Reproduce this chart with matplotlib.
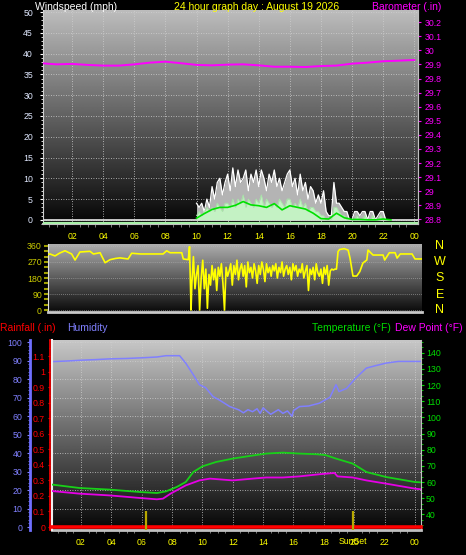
import numpy as np
import matplotlib
matplotlib.use("Agg")
import matplotlib.pyplot as plt
from matplotlib.ticker import MultipleLocator

W, H = 466, 555
plt.rcParams["font.family"] = ["Liberation Sans", "DejaVu Sans"]

# ── data ────────────────────────────────────────────────────────────────
HOUR_TICKS = list(range(2, 25, 2))
HOUR_LABELS = ["02", "04", "06", "08", "10", "12", "14", "16", "18", "20", "22", "00"]

BARO_T = list(range(25))
BARO = [29.909, 29.901, 29.904, 29.897, 29.892, 29.892, 29.901, 29.913, 29.920,
        29.909, 29.897, 29.894, 29.899, 29.901, 29.894, 29.884, 29.884, 29.882,
        29.889, 29.892, 29.906, 29.913, 29.923, 29.927, 29.932]

# 10 minute samples 10:00 .. 22:30
WIND_T = np.linspace(10, 22.5, 76)
GUST = [4, 3, 4, 2, 5, 3,
        8, 5, 9, 10, 6, 9,
        11, 7, 12.5, 8, 12, 9,
        10, 12, 7, 11, 9, 12,
        8, 12, 10, 7, 11, 9,
        12, 8, 10, 7, 9, 11,
        12, 8, 10, 6, 11, 7,
        9, 5, 8, 7, 4, 6,
        4, 7, 2, 1, 1, 9,
        4, 4, 3, 2, 2, 0,
        0, 2, 2, 1, 2, 2,
        0, 2, 2, 0, 1, 2,
        2, 0, 0, 0]
SPEED = [1, 2, 1, 2, 3, 2,
         3, 2, 4, 3, 2, 4,
         4, 3, 5, 3, 5, 4,
         6, 3, 5, 4, 3, 5,
         4, 6, 3, 5, 4, 3,
         4, 3, 5, 4, 3, 5,
         5, 3, 4, 3, 5, 3,
         4, 2, 3, 3, 2, 2,
         1, 1, 0, 0, 0, 3,
         3, 2, 1, 1, 0, 0,
         0, 0, 1, 0, 0, 1,
         0, 0, 1, 0, 0, 1,
         0, 0, 0, 0]
AVG_T = np.linspace(10, 22.5, 26)
AVG = [0.4, 1.5, 2.5, 3.0, 3.0, 3.5, 4.4, 3.6, 3.4, 3.0, 3.9, 2.4, 3.4,
       3.0, 2.6, 1.6, 0.3, 0.2, 1.6, 0.5, 0.1, 0.1, 0.0, 0.0, 0.2, 0.0]

DIR_T_AM = [0.45, 0.58, 0.9, 1.2, 1.54, 1.97, 2.19, 2.5, 2.8, 3.15, 3.37, 3.8,
            3.9, 4.12, 4.44, 4.8, 5.08, 5.6, 5.83, 6.4, 7.0, 7.85, 8.08, 8.3,
            9.05, 9.15, 9.47, 9.55, 9.65]
DIR_AM = [312, 315, 304, 320, 333, 315, 281, 326, 328, 330, 315, 322,
          304, 266, 283, 290, 293, 287, 319, 315, 315, 315, 333, 322,
          322, 287, 283, 356, 0]
# 6 minute samples 9.7 .. 18.9 h
DIR_T_MID = np.linspace(9.7, 18.9, 93)
DIR_MID = [150, 300, 120, 200, 250, 0, 180, 280, 120, 230, 10,
           200, 140, 250, 170, 230, 110, 240, 190, 260, 150, 0,
           240, 190, 220, 260, 140, 250, 200, 280, 170, 230, 260,
           190, 250, 130, 270, 210, 240, 180, 260, 220, 150,
           250, 200, 270, 230, 160, 260, 210, 240, 190, 250,
           220, 260, 180, 240, 210, 270, 190, 230, 250, 200,
           240, 170, 260, 220, 250, 190, 230, 210, 260, 180,
           220, 250, 110, 230, 200, 240, 170, 260, 210, 190,
           230, 150, 240, 200, 250, 140, 220, 230, 225, 230]
DIR_T_PM = [19.0, 19.1, 19.2, 19.5, 19.75, 19.87, 20.06, 20.3, 20.5, 20.7,
            20.95, 21.03, 21.35, 22.0, 22.1, 22.4, 22.77, 22.9, 23.1, 23.86,
            24.05, 24.5]
DIR_PM = [230, 328, 340, 345, 337, 292, 191, 191, 216, 264,
          281, 337, 309, 309, 281, 322, 322, 292, 315, 315,
          287, 287]

HUM_T = [0.1, 1.0, 2.1, 3.0, 3.9, 5.0, 6.1, 7.0, 7.6, 8.5, 8.9, 9.4, 9.8,
         10.2, 10.7, 11.1, 11.8, 12.4, 12.7, 13.0, 13.3, 13.6, 13.8, 14.0,
         14.2, 14.5, 14.7, 15.0, 15.3, 15.6, 15.9, 16.0, 16.4, 17.0, 17.7,
         18.4, 18.8, 19.0, 19.5, 20.1, 20.8, 21.4, 22.1, 22.9, 24.0, 24.4]
HUM = [89.5, 89.8, 90.3, 90.6, 91.0, 91.2, 91.6, 92.0, 92.7, 92.7, 88.7,
       82.4, 77.0, 75.5, 70.6, 68.8, 65.2, 63.4, 61.8, 63.5, 62.4, 64.0,
       61.5, 64.5, 63.0, 61.0, 62.0, 63.5, 61.5, 62.8, 60.0, 63.0, 65.2,
       65.5, 67.0, 70.2, 77.0, 73.3, 75.0, 80.6, 86.0, 87.3, 88.7, 89.6,
       89.6, 89.6]

TEMP_T = [0.1, 1.9, 3.9, 5.9, 7.0, 7.6, 8.3, 8.9, 9.4, 10.0, 10.9, 12.0,
          13.1, 14.2, 15.3, 16.4, 17.5, 18.1, 18.8, 19.9, 20.8, 22.1, 24.0, 24.4]
TEMP = [58.4, 56.3, 55.3, 53.8, 53.2, 54.2, 56.9, 60.0, 66.2, 69.7, 72.4,
        74.5, 76.1, 77.6, 78.2, 77.6, 77.2, 76.7, 74.5, 71.4, 66.2, 63.1,
        60.0, 59.8]

DEW_T = [0.1, 1.9, 3.9, 5.9, 7.0, 7.4, 7.9, 8.9, 9.8, 10.5, 12.0, 13.3,
         14.2, 15.3, 16.4, 17.7, 18.7, 18.9, 19.9, 20.8, 22.1, 24.0, 24.4]
DEW = [54.4, 52.8, 51.7, 50.1, 49.3, 49.7, 52.8, 57.9, 61.0, 62.1, 61.0,
       62.1, 62.8, 62.8, 63.5, 64.8, 65.6, 63.5, 62.8, 61.0, 59.0, 55.9, 55.5]

RAIN_T = [0, 24.4]
RAIN = [0, 0]
SUN_T = [6.3, 19.93]
SUN_H = 0.1

# ── colours ─────────────────────────────────────────────────────────────
YEL, MAG, GRN, HUMC, RED = "#ffff00", "#ff00ff", "#00dd00", "#8080ff", "#ff0000"
OLIVE = "#cccc00"
GRIDC = "#d0d0d0"
DOT = (0, (1, 2))
FS = 6.3

fig = plt.figure(figsize=(W / 100, H / 100), dpi=100, facecolor="black")


def box(l, t, r, b):
    return fig.add_axes([l / W, 1 - b / H, (r - l) / W, (b - t) / H])


def backdrop(ax, top, bottom):
    g = np.linspace(top, bottom, 256).reshape(-1, 1)
    ax.imshow(g, extent=[0, 1, 0, 1], transform=ax.transAxes, cmap="gray",
              vmin=0, vmax=1, aspect="auto", zorder=0, interpolation="bilinear")


def ftext(x, y, s, color, size=7.5, ha="left", va="baseline"):
    fig.text(x / W, 1 - y / H, s, color=color, fontsize=size, ha=ha, va=va)


def fmt(vals):
    return [f"{v:g}" for v in vals]


# ── panel 1: wind speed + barometer ─────────────────────────────────────
ax1 = box(43, 10, 418, 224)
ax1.set_facecolor("black")
backdrop(ax1, 0.74, 0.02)
ax1.fill_between(WIND_T, 0, GUST, color="#b4b4b4", lw=0, zorder=2)
ax1.plot(WIND_T, GUST, color="white", lw=0.9, zorder=3)
ax1.axhline(0, color="#d8d8d8", lw=1.3, zorder=3)
ax1.fill_between(WIND_T, 0, SPEED, color="#c4f2c4", lw=0, zorder=4)
ax1.plot(WIND_T, SPEED, color="#a8e8a8", lw=0.6, zorder=4)
ax1.axhline(-0.7, color="#a8f0a8", lw=1.6, zorder=4)
ax1.plot(AVG_T, AVG, color="#00e000", lw=1.2, zorder=5)
ax1.set_xlim(0.13, 24.24)
ax1.set_ylim(-1, 50.5)
ax1.set_xticks(HOUR_TICKS)
ax1.set_xticklabels(HOUR_LABELS)
ax1.xaxis.set_minor_locator(MultipleLocator(0.5))
ax1.set_yticks(range(0, 51, 5))
ax1.yaxis.set_minor_locator(MultipleLocator(1))
ax1.grid(True, which="major", color=GRIDC, lw=0.6, ls=DOT, zorder=1)
ax1.tick_params(axis="x", which="major", length=0, pad=5.5, labelcolor=YEL, labelsize=FS)
ax1.tick_params(axis="x", which="minor", length=2, color="#909090")
ax1.tick_params(axis="y", which="major", length=2.2, color="white", pad=5,
                labelcolor="#e0e8ff", labelsize=FS)
ax1.tick_params(axis="y", which="minor", length=1.2, color="white")
ax1.spines["top"].set_visible(False)
ax1.spines["left"].set_color("#d0d0d0")
ax1.spines["right"].set_color("#c0c0c0")
ax1.spines["bottom"].set_color("#c0c0c0")
ax1.spines["bottom"].set_linewidth(1.5)

ax1b = ax1.twinx()
ax1b.plot(BARO_T, BARO, color=MAG, lw=1.4, zorder=6)
ax1b.set_ylim(28.767, 30.287)
bt = np.round(np.arange(28.8, 30.25, 0.1), 1)
ax1b.set_yticks(bt)
ax1b.set_yticklabels(fmt(bt))
ax1b.tick_params(axis="y", length=2, color=MAG, pad=2.5, labelcolor=MAG, labelsize=FS)
for s in ("top", "left", "bottom"):
    ax1b.spines[s].set_visible(False)
ax1b.spines["right"].set_color("#c0c0c0")

ftext(35, 9.5, "Windspeed (mph)", "white")
ftext(257, 9.5, "24 hour graph day : August 19 2026", YEL, ha="center")
ftext(372, 9.5, "Barometer (.in)", MAG)

# ── panel 2: wind direction ─────────────────────────────────────────────
ax2 = box(48, 244, 422, 312)
ax2.set_facecolor("black")
backdrop(ax2, 0.68, 0.04)
dir_t = np.concatenate([DIR_T_AM, DIR_T_MID, DIR_T_PM])
dir_v = np.concatenate([DIR_AM, DIR_MID, DIR_PM])
ax2.plot(dir_t, dir_v, color=YEL, lw=1.2, zorder=3)
ax2.set_xlim(0.45, 24.5)
ax2.set_ylim(-11, 371)
ax2.set_xticks([])
ax2.set_yticks([0, 90, 180, 270, 360])
ax2.yaxis.set_minor_locator(MultipleLocator(30))
ax2.grid(True, axis="y", color="#b8b8b8", lw=0.5, ls=DOT, zorder=1)
ax2.tick_params(axis="y", which="major", length=2.9, width=1.5, color="#a0a000",
                pad=1.5, labelcolor=OLIVE, labelsize=FS)
ax2.tick_params(axis="y", which="minor", length=2.9, width=1.5, color="#a0a000")
ax2.spines["top"].set_visible(False)
ax2.spines["right"].set_visible(False)
ax2.spines["left"].set_color("#e0e0e0")
ax2.spines["bottom"].set_color("#c8c8c8")
ax2.spines["bottom"].set_linewidth(2)

for lab, y in zip(["N", "W", "S", "E", "N"], [246, 262, 278, 295, 310]):
    ftext(440, y, lab, YEL, size=9, ha="center", va="center")

# ── panel 3: humidity / rain / temperature / dew point ─────────────────
ax3 = box(52, 340, 421, 530)
ax3.set_facecolor("black")
backdrop(ax3, 0.78, 0.02)
ax3.plot(HUM_T, HUM, color=HUMC, lw=1.1, zorder=3)
ax3.set_xlim(0.09, 24.4)
ax3.set_ylim(-1.6, 101.2)
ax3.set_xticks(HOUR_TICKS)
ax3.set_xticklabels(HOUR_LABELS)
ax3.xaxis.set_minor_locator(MultipleLocator(0.5))
ax3.set_yticks(range(0, 101, 10))
ax3.yaxis.set_minor_locator(MultipleLocator(2))
ax3.grid(True, which="major", color=GRIDC, lw=0.6, ls=DOT, zorder=1)
ax3.tick_params(axis="x", which="major", length=0, pad=5.5, labelcolor=YEL, labelsize=FS)
ax3.tick_params(axis="x", which="minor", length=2, color="#909090")
ax3.tick_params(axis="y", which="major", length=2.2, color=HUMC, pad=3,
                labelcolor=HUMC, labelsize=FS)
ax3.tick_params(axis="y", which="minor", length=1.4, color=HUMC)
ax3.spines["left"].set_position(("outward", 16.2))
ax3.spines["left"].set_color("#7070ff")
ax3.spines["left"].set_linewidth(2)
ax3.spines["top"].set_visible(False)
ax3.spines["right"].set_visible(False)
ax3.spines["bottom"].set_color("#c0c0c0")
ax3.spines["bottom"].set_linewidth(2)

ax3t = ax3.twinx()
ax3t.plot(TEMP_T, TEMP, color="#18d018", lw=1.3, zorder=4)
ax3t.plot(DEW_T, DEW, color="#e600e6", lw=1.3, zorder=4)
ax3t.set_ylim(30.3, 147.9)
ax3t.set_yticks(range(40, 141, 10))
ax3t.yaxis.set_minor_locator(MultipleLocator(10 / 3))
ax3t.tick_params(axis="y", which="major", length=2.2, color=GRN, pad=1.5,
                 labelcolor=GRN, labelsize=FS)
ax3t.tick_params(axis="y", which="minor", length=1.5, color=GRN)
ax3t.spines["top"].set_visible(False)
ax3t.spines["bottom"].set_visible(False)
ax3t.spines["left"].set_color("#f0f0f0")
ax3t.spines["left"].set_linewidth(1.5)
ax3t.spines["right"].set_color("#c0c0c0")

ax3r = ax3.twinx()
ax3r.yaxis.tick_left()
ax3r.plot(RAIN_T, RAIN, color=RED, lw=2.6, zorder=5, clip_on=False)
ax3r.vlines(SUN_T, -0.03, SUN_H, color="#b8a800", lw=1.6, zorder=6)
ax3r.set_ylim(-0.019, 1.203)
rt = np.round(np.arange(0, 1.15, 0.1), 1)
ax3r.set_yticks(rt)
ax3r.set_yticklabels(fmt(rt))
ax3r.yaxis.set_minor_locator(MultipleLocator(0.05))
ax3r.tick_params(axis="y", which="major", length=1.5, color=RED, pad=2,
                 labelcolor=RED, labelsize=FS)
ax3r.tick_params(axis="y", which="minor", length=1.0, color=RED)
for s in ("top", "right", "bottom"):
    ax3r.spines[s].set_visible(False)
ax3r.spines["left"].set_position(("outward", 1.5))
ax3r.spines["left"].set_color(RED)
ax3r.spines["left"].set_linestyle((0, (1, 1)))
ax3r.spines["left"].set_linewidth(1.2)

# the reference draws "SunSet" right over the "20" tick label
ftext(352.7, 542, "SunSet", YEL, size=FS, ha="center", va="center")
ftext(0, 331, "Rainfall (.in)", RED)
ftext(67, 331, "Humidity", HUMC)
ftext(312, 331, "Temperature (°F)", GRN)
ftext(395, 331, "Dew Point (°F)", MAG)

fig.savefig("out.png", dpi=100, facecolor="black")
